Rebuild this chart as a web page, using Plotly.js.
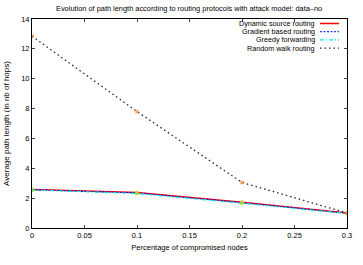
<!DOCTYPE html>
<html><head><meta charset="utf-8">
<script src="https://cdn.plot.ly/plotly-3.0.1.min.js"></script>
<style>html,body{margin:0;padding:0;background:#fff}#c{width:363px;height:265px}</style>
</head><body><div id="c"></div>
<script>
const xVals = [0, 0.1, 0.2, 0.3];
const dynamicSource = [2.58, 2.37, 1.73, 1.0];
const gradientBased = [2.57, 2.35, 1.70, 0.99];
const greedyForwarding = [2.55, 2.31, 1.66, 0.97];
const randomWalk = [12.85, 7.8, 3.05, 1.0];
const seriesNames = ["Dynamic source routing", "Gradient based routing", "Greedy forwarding", "Random walk routing"];
const xTicks = [0, 0.05, 0.1, 0.15, 0.2, 0.25, 0.3];
const xTickText = ["0", "0.05", "0.1", "0.15", "0.2", "0.25", "0.3"];
const yTicks = [0, 2, 4, 6, 8, 10, 12, 14];
const chartTitle = "Evolution of path length according to routing protocols with attack model: data\u2013no";

const colors = ["#ff0000", "#0000ff", "#00e5e5", "#222222"];
const dashes = ["solid", "2px,1.5px", "4px,2px,1px,2px", "1.5px,3px"];
const widths = [1.5, 1, 1.2, 1.3];
const markerColors = ["#ffaa55", "#cccc33", "#aadd33", "#ff8833"];
const data = [dynamicSource, gradientBased, greedyForwarding, randomWalk];
const font = "Liberation Sans, Arial, sans-serif";

const traces = data.map((ys, i) => ({
  x: xVals, y: ys, type: "scatter", mode: "lines+markers", name: seriesNames[i],
  line: {color: colors[i], dash: dashes[i], width: widths[i]},
  marker: {size: 3.5, symbol: "square", color: markerColors[i], opacity: 0.7},
  showlegend: false
}));

const L = 32, R = 347, T = 19, B = 228;
const shapes = [];
const annotations = [];
const rowY = [23.5, 31.7, 39.9, 48.1];
seriesNames.forEach((n, i) => {
  const yp = (B - rowY[i]) / (B - T);
  annotations.push({xref: "paper", yref: "paper", x: (316 - L) / (R - L), y: yp,
    text: n, showarrow: false, xanchor: "right", yanchor: "middle", borderpad: 0,
    font: {family: font, size: 7.2, color: "#000"}});
  shapes.push({type: "line", xref: "paper", yref: "paper",
    x0: (320 - L) / (R - L), x1: (339 - L) / (R - L), y0: yp, y1: yp,
    line: {color: colors[i], dash: dashes[i], width: widths[i]}});
});
annotations.push({xref: "paper", yref: "paper", x: (189 - L) / (R - L), y: (B - 9) / (B - T),
  text: chartTitle, showarrow: false, xanchor: "center", yanchor: "middle",
  font: {family: font, size: 7.4, color: "#000"}});

const layout = {
  width: 363, height: 265,
  margin: {l: L, r: 363 - R, t: T, b: 265 - B},
  paper_bgcolor: "#fff", plot_bgcolor: "#fff",
  font: {family: font, size: 7, color: "#000"},
  xaxis: {range: [0, 0.3], tickvals: xTicks, ticktext: xTickText, ticks: "inside", ticklen: 3,
    showline: true, mirror: "ticks", linecolor: "#000", linewidth: 1, showgrid: false, zeroline: false,
    tickfont: {size: 7.5}, title: {text: "Percentage of compromised nodes", font: {size: 7.5}, standoff: 5}},
  yaxis: {range: [0, 14], tickvals: yTicks, ticks: "inside", ticklen: 3,
    showline: true, mirror: "ticks", linecolor: "#000", linewidth: 1, showgrid: false, zeroline: false,
    tickfont: {size: 7.5}, title: {text: "Average path length (in nb of hops)", font: {size: 8}, standoff: 10}},
  shapes: shapes, annotations: annotations, showlegend: false
};
Plotly.newPlot("c", traces, layout, {displayModeBar: false, staticPlot: true});
</script></body></html>
